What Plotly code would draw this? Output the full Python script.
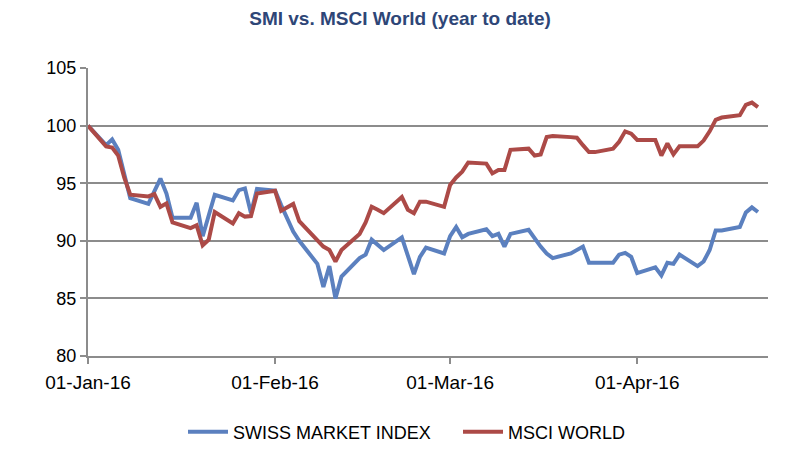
import plotly.graph_objects as go

dates = (
    ["2016-01-%02d" % d for d in [1, 4, 5, 6, 7, 8, 11, 12, 13, 14, 15, 18, 19, 20, 21, 22, 25, 26, 27, 28, 29]]
    + ["2016-02-%02d" % d for d in [1, 2, 3, 4, 5, 8, 9, 10, 11, 12, 15, 16, 17, 18, 19, 22, 23, 24, 25, 26, 29]]
    + ["2016-03-%02d" % d for d in [1, 2, 3, 4, 7, 8, 9, 10, 11, 14, 15, 16, 17, 18, 21, 22, 23, 24, 25, 28, 29, 30, 31]]
    + ["2016-04-%02d" % d for d in [1, 4, 5, 6, 7, 8, 11, 12, 13, 14, 15, 18, 19, 20, 21]]
)

smi = [
    # Jan
    100, 98.3, 98.8, 97.9, 95.8, 93.7, 93.2, 94.4, 95.4, 94.1, 92.0, 92.0, 93.3, 90.4, 92.2, 94.0, 93.5, 94.4, 94.55, 92.4, 94.5,
    # Feb
    94.35, 93.1, 92.0, 90.8, 90.0, 88.0, 86.0, 87.8, 85.0, 86.9, 88.5, 88.8, 90.1, 89.6, 89.2, 90.3, 88.8, 87.1, 88.6, 89.4, 88.9,
    # Mar
    90.4, 91.2, 90.3, 90.6, 91.0, 90.4, 90.6, 89.5, 90.6, 90.95, 90.2, 89.5, 88.9, 88.5, 88.9, 89.2, 89.5, 88.1, 88.1, 88.1, 88.8, 88.95, 88.6,
    # Apr
    87.2, 87.7, 87.0, 88.1, 88.0, 88.8, 87.8, 88.2, 89.2, 90.9, 90.9, 91.2, 92.45, 92.9, 92.5,
]

msci = [
    # Jan
    100, 98.2, 98.1, 97.4, 95.5, 94.0, 93.85, 94.05, 92.95, 93.25, 91.6, 91.1, 91.35, 89.6, 90.1, 92.5, 91.5, 92.4, 92.1, 92.15, 94.1,
    # Feb
    94.35, 92.6, 92.9, 93.2, 91.7, 90.1, 89.5, 89.2, 88.2, 89.2, 90.6, 91.6, 92.95, 92.7, 92.4, 93.8, 92.7, 92.4, 93.4, 93.4, 92.95,
    # Mar
    94.85, 95.5, 96.0, 96.8, 96.7, 95.85, 96.15, 96.15, 97.9, 98.0, 97.4, 97.5, 99.0, 99.1, 99.0, 98.95, 98.3, 97.7, 97.7, 98.0, 98.6, 99.5, 99.3,
    # Apr
    98.75, 98.75, 97.4, 98.45, 97.5, 98.2, 98.2, 98.7, 99.5, 100.5, 100.7, 100.9, 101.8, 102.0, 101.6,
]

x_tickvals = ["2016-01-01", "2016-02-01", "2016-03-01", "2016-04-01"]
x_ticktext = ["01-Jan-16", "01-Feb-16", "01-Mar-16", "01-Apr-16"]
y_tickvals = [80, 85, 90, 95, 100, 105]

FONT = "Liberation Sans, Arial, sans-serif"
GRID = "#8c8c8c"
# the page body adds an 8px offset; positions below compensate for it
OFF = 8
W, H = 800, 474

fig = go.Figure()
fig.add_trace(go.Scatter(x=dates, y=smi, mode="lines", name="SWISS MARKET INDEX",
                         line=dict(color="#5B80BF", width=4)))
fig.add_trace(go.Scatter(x=dates, y=msci, mode="lines", name="MSCI WORLD",
                         line=dict(color="#AC4A47", width=4)))

fig.update_layout(
    width=W, height=H,
    paper_bgcolor="white", plot_bgcolor="white",
    margin=dict(l=88 - OFF, r=W - (768 - OFF), t=68 - OFF, b=H - (356 - OFF)),
    font=dict(family=FONT, size=18, color="black"),
    title=dict(text="<b>SMI vs. MSCI World (year to date)</b>",
               font=dict(family=FONT, size=19, color="#2E4677"),
               x=(400 - OFF) / W, xref="container", xanchor="center",
               y=1 - 4 / H, yref="container", yanchor="top",
               pad=dict(t=0, b=0, l=0, r=0)),
    legend=dict(orientation="h", xref="container", yref="container",
                x=(183 - OFF) / W, xanchor="left", y=1 - (432 - OFF) / H, yanchor="middle",
                font=dict(family=FONT, size=18, color="black"),
                itemwidth=40, entrywidth=220, entrywidthmode="pixels",
                traceorder="normal"),
    showlegend=True,
)

fig.update_xaxes(
    type="date", range=["2016-01-01", "2016-04-22 16:00"],
    tickmode="array", tickvals=x_tickvals, ticktext=x_ticktext,
    tickfont=dict(size=19),
    showgrid=False, zeroline=False,
    showline=True, linecolor=GRID, linewidth=2,
    ticks="outside", ticklen=6, tickwidth=2, tickcolor=GRID,
    ticklabelstandoff=2,
)
fig.update_yaxes(
    range=[80, 105], tickmode="array", tickvals=y_tickvals,
    tickfont=dict(size=18),
    showgrid=True, gridcolor=GRID, gridwidth=2, zeroline=False,
    showline=True, linecolor=GRID, linewidth=2,
    ticks="outside", ticklen=6, tickwidth=2, tickcolor=GRID,
)

fig.write_html("out.html")
